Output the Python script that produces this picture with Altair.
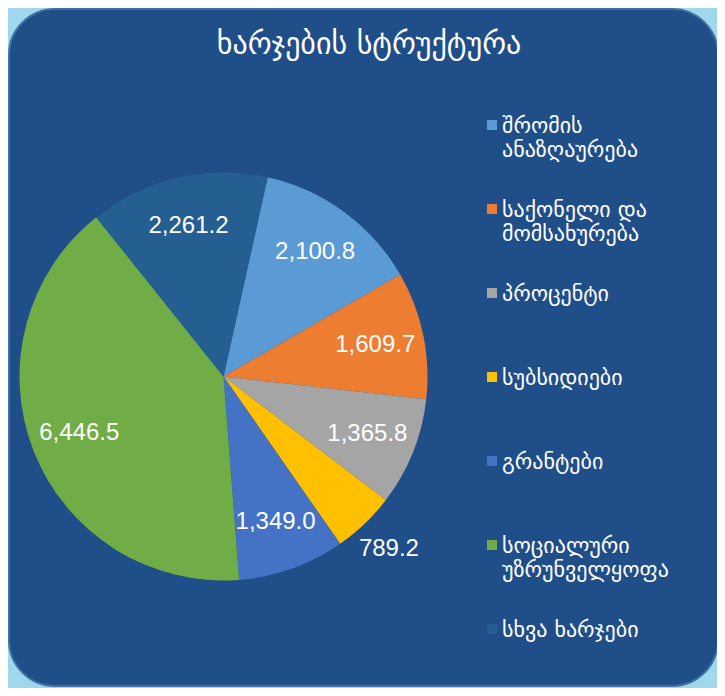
import math
import altair as alt
import pandas as pd

# ---- data ----
title_text = "ხარჯების სტრუქტურა"
categories = [
    "შრომის ანაზღაურება",
    "საქონელი და მომსახურება",
    "პროცენტი",
    "სუბსიდიები",
    "გრანტები",
    "სოციალური უზრუნველყოფა",
    "სხვა ხარჯები",
]
legend_labels = [
    "შრომის\nანაზღაურება",
    "საქონელი და\nმომსახურება",
    "პროცენტი",
    "სუბსიდიები",
    "გრანტები",
    "სოციალური\nუზრუნველყოფა",
    "სხვა ხარჯები",
]
values = [2100.8, 1609.7, 1365.8, 789.2, 1349.0, 6446.5, 2261.2]
colors = ["#5B9BD5", "#ED7D31", "#A5A5A5", "#FFC000", "#4472C4", "#70AD47", "#255E91"]

df = pd.DataFrame({
    "category": categories,
    "legend": legend_labels,
    "value": values,
    "order": list(range(len(categories))),
})

# ---- layout ----
W, H = 709, 680
CX, CY, R = 215.5, 368.5, 204
start = math.radians(12.5)
theta_scale = alt.Scale(range=[start, start + 2 * math.pi])
color_scale = alt.Scale(domain=categories, range=colors)

base = alt.Chart(df)
theta = alt.Theta("value:Q", stack=True, scale=theta_scale)
order = alt.Order("order:Q", sort="ascending")

panel = alt.Chart(alt.Data(values=[{"p": 1}])).mark_rect(
    cornerRadius=46, fill="#1F4E89", stroke="#40709F", strokeWidth=2
).encode(x=alt.value(1), x2=alt.value(710), y=alt.value(1), y2=alt.value(678))

title = alt.Chart(alt.Data(values=[{"t": title_text}])).mark_text(
    font="DejaVu Sans", fontSize=30, color="white", align="center", baseline="middle"
).encode(text="t:N", x=alt.value(361), y=alt.value(37))

arcs = base.mark_arc(outerRadius=R).encode(
    theta=theta,
    order=order,
    color=alt.Color("category:N", scale=color_scale, legend=None),
    x=alt.value(CX),
    y=alt.value(CY),
)

inner = base.transform_calculate(
    lab="datum.value >= 1000 ? format(datum.value, ',.1f') : ''"
).mark_text(radius=155, font="Liberation Sans", fontSize=24, color="white").encode(
    theta=theta, order=order, detail="category:N", text="lab:N",
    x=alt.value(CX), y=alt.value(CY),
)

outer = base.transform_calculate(
    lab="datum.value < 1000 ? format(datum.value, ',.1f') : ''"
).mark_text(radius=239, font="Liberation Sans", fontSize=24, color="white").encode(
    theta=theta, order=order, detail="category:N", text="lab:N",
    x=alt.value(CX), y=alt.value(CY),
)

legend_y = alt.Y("category:N", scale=alt.Scale(domain=categories, range=[117, 621], padding=0), axis=None)

squares = base.mark_square(size=100, opacity=1, filled=True).encode(
    x=alt.value(484), y=legend_y,
    color=alt.Color("category:N", scale=color_scale, legend=None),
)

legend_text = base.mark_text(
    align="left", baseline="alphabetic", dy=8, lineBreak="\n", lineHeight=24,
    font="DejaVu Sans", fontSize=22, color="white",
).encode(x=alt.value(494), y=legend_y, text="legend:N")

chart = alt.layer(panel, title, arcs, inner, outer, squares, legend_text).properties(
    width=W, height=H, background="#9FD8EC", padding=0,
    autosize=alt.AutoSizeParams(type="none"),
).configure_view(stroke=None)

chart.save("out.html", embed_options={"renderer": "svg", "actions": False})
